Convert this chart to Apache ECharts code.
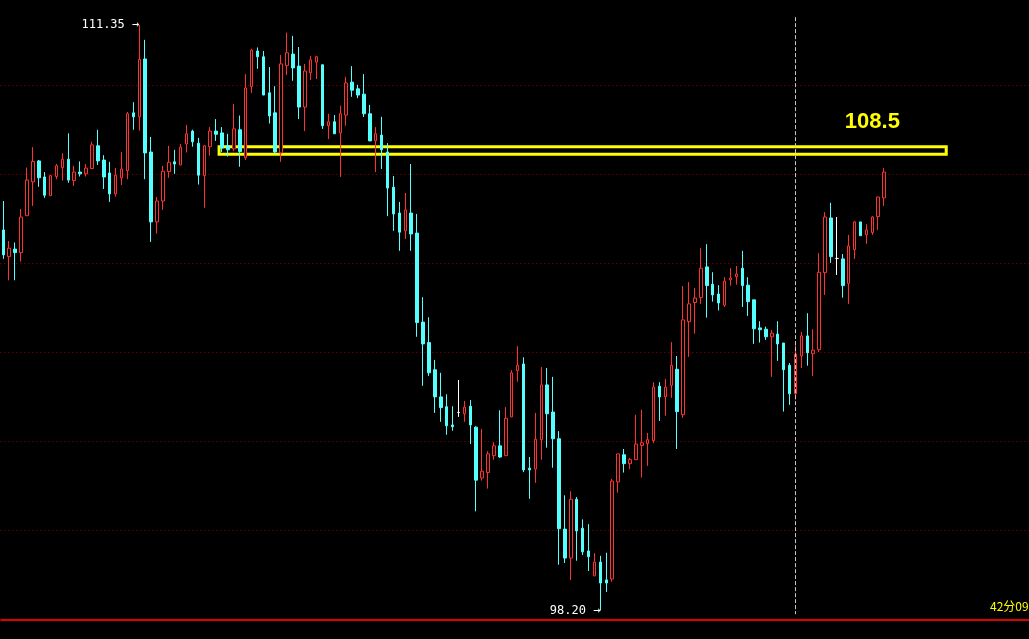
<!DOCTYPE html>
<html>
<head>
<meta charset="utf-8">
<script src="https://cdn.jsdelivr.net/npm/echarts@6/dist/echarts.min.js"></script>
<style>
html,body{margin:0;padding:0;background:#000;}
#chart{width:1029px;height:639px;}
</style>
</head>
<body>
<div id="chart"></div>
<script>
// ---- data ----
const slotCount = 174; // candle slots across the full panel width
const categories = Array.from({length: slotCount}, (_, i) => String(i + 1));

const opens = [
106.75,106.15,106.32,106.24,107.07,107.83,108.30,107.94,107.52,107.95,
108.15,108.34,107.86,108.05,108.01,108.13,108.64,108.32,108.03,107.56,
107.92,108.08,109.38,109.29,110.59,108.50,106.93,107.40,108.06,108.28,
108.21,108.68,108.97,108.70,107.97,108.62,108.97,108.93,108.64,108.57,
109.00,108.37,109.97,110.77,110.64,109.83,109.38,108.48,110.44,110.70,
110.43,109.51,110.28,110.52,110.46,109.09,109.18,108.93,109.33,110.07,
109.92,109.80,109.36,108.75,108.88,108.50,107.71,107.13,106.73,107.13,
106.68,104.68,104.22,103.61,103.00,102.78,102.37,102.65,102.62,102.79,
102.32,101.18,101.30,101.68,101.90,101.68,102.55,103.59,103.74,101.40,
101.38,102.04,103.27,102.66,102.06,100.03,99.38,100.70,100.05,99.54,
98.98,99.29,98.89,98.91,101.09,101.70,101.50,101.59,101.91,101.95,
102.02,103.24,103.00,103.26,103.62,102.60,104.69,105.12,105.23,105.92,
105.53,105.31,105.06,105.63,105.70,105.89,105.51,105.18,104.55,104.52,
104.35,104.41,104.21,103.71,103.07,103.92,104.37,103.97,104.06,105.79,
107.02,106.11,106.10,105.55,106.31,106.93,106.64,106.69,107.05,107.47
];
const closes = [
106.19,106.34,106.24,107.04,107.87,108.29,107.92,107.53,107.97,108.19,
108.34,107.87,108.05,108.01,108.14,108.66,108.30,107.94,107.56,107.98,
108.12,109.36,109.29,110.58,108.48,106.93,107.40,108.07,108.27,108.23,
108.61,108.91,108.73,107.98,108.64,108.97,108.90,108.59,108.55,109.02,
108.51,109.94,110.79,110.64,109.78,109.31,108.50,110.48,110.73,110.39,
109.51,110.32,110.57,110.64,109.09,109.18,108.91,109.36,110.05,109.89,
109.78,109.36,108.75,108.91,108.55,107.69,107.11,106.70,107.20,106.66,
104.67,104.19,103.54,103.00,102.76,102.35,102.33,102.65,102.77,102.37,
101.13,101.33,101.72,101.90,101.65,102.52,103.54,103.71,101.36,101.36,
102.05,103.27,102.62,102.06,100.04,99.38,100.70,99.99,99.52,99.41,
99.29,98.82,98.82,101.11,101.72,101.50,101.59,101.94,101.97,102.04,
103.22,103.00,103.22,103.71,102.67,104.73,105.09,105.22,105.89,105.50,
105.29,105.11,105.60,105.67,105.76,105.50,105.14,104.53,104.51,104.35,
104.43,104.19,103.61,103.07,103.96,104.37,103.99,104.05,105.80,107.04,
106.15,106.11,105.50,106.39,106.93,106.62,106.75,107.04,107.49,108.05
];
const lows = [
106.10,105.62,105.62,106.04,107.07,107.29,107.72,107.47,107.52,107.89,
107.86,107.81,107.74,107.95,107.95,108.13,108.21,107.67,107.38,107.50,
107.76,107.89,109.00,108.98,107.89,106.48,106.67,107.20,107.92,108.01,
108.21,108.49,108.62,107.77,107.25,108.42,108.75,108.50,108.40,108.52,
108.17,108.32,109.83,110.37,109.78,109.14,108.47,108.28,110.23,110.10,
109.24,108.97,110.12,110.14,109.02,108.79,108.91,107.94,109.09,109.74,
109.71,109.29,108.75,108.05,108.12,107.06,106.73,106.28,106.55,106.28,
104.35,103.25,103.47,102.64,102.44,102.15,102.24,102.55,102.44,101.94,
100.43,101.12,100.94,101.59,101.63,101.68,102.55,103.34,101.31,100.71,
101.07,101.59,101.86,101.41,99.23,99.27,98.89,99.32,99.45,99.09,
98.98,98.20,98.62,98.85,100.85,101.30,101.38,101.59,101.19,101.45,
101.96,102.46,102.58,102.98,101.83,102.53,103.90,104.42,105.09,104.78,
105.14,104.94,105.02,105.50,105.52,105.02,104.82,104.19,104.22,104.28,
103.45,103.81,102.67,102.82,102.94,103.65,103.70,103.47,104.01,105.29,
106.01,105.74,105.23,105.09,106.10,106.62,106.44,106.64,106.75,107.29
];
const highs = [
107.40,106.50,106.47,107.22,108.15,108.61,108.32,108.05,107.99,108.23,
108.47,108.92,108.19,108.29,108.23,108.73,109.00,108.43,108.28,108.14,
108.50,109.40,109.62,111.35,111.02,108.84,107.49,108.19,108.64,108.55,
108.68,109.11,109.00,108.82,108.66,109.06,109.24,109.06,108.91,109.58,
109.32,110.25,110.82,110.85,110.77,110.41,109.98,110.68,111.18,111.11,
110.86,110.48,110.66,110.66,110.46,109.36,109.33,109.54,110.19,110.43,
110.01,110.25,109.56,109.06,109.29,108.70,107.96,107.38,107.58,108.23,
107.11,105.24,104.79,103.83,103.54,103.06,102.79,103.38,102.91,102.93,
102.34,102.28,101.78,101.98,102.70,102.77,103.60,104.14,103.89,101.65,
102.64,103.67,103.65,103.45,102.23,100.79,100.88,100.75,100.25,100.14,
99.49,99.43,99.50,101.16,101.72,101.83,101.63,102.60,102.71,102.19,
103.33,103.33,103.40,104.23,103.92,105.49,105.58,105.45,106.34,106.43,
105.80,105.51,105.69,105.89,105.94,106.28,105.69,105.18,104.70,104.58,
104.50,104.70,104.21,103.76,104.25,104.46,104.88,104.52,106.23,107.15,
107.36,107.04,106.21,106.64,106.95,106.93,106.88,107.06,107.49,108.14
];

// price axis
const yMin = 98, yMax = 111.915, yStep = 2;

// annotations
const highMark = {index: 23, value: 111.35, text: '111.35 →'};
const lowMark = {index: 101, value: 98.20, text: '98.20 →'};
const levelLabel = {index: 147, value: 109.18, text: '108.5'};
const levelBox = [36, 159, 108.62, 108.45]; // from slot, to slot, top price, bottom price
const cursorLine = {index: 134, top: 111.53, bottom: 98.12};
const timeText = '42分09';

// ---- chart ----
const candles = opens.map((o, i) => [o, closes[i], lows[i], highs[i]]);

const chart = echarts.init(document.getElementById('chart'), null, {renderer: 'canvas'});
const monoFont = 'DejaVu Sans Mono';

chart.setOption({
  backgroundColor: '#000000',
  animation: false,
  grid: {left: 0.34, right: 0, top: 0, bottom: 19.5, containLabel: false, show: false},
  xAxis: {
    type: 'category',
    data: categories,
    boundaryGap: true,
    axisLine: {show: false},
    axisTick: {show: false},
    axisLabel: {show: false},
    splitLine: {show: false}
  },
  yAxis: {
    type: 'value',
    min: yMin, max: yMax, interval: yStep,
    axisLine: {show: false},
    axisTick: {show: false},
    axisLabel: {show: false},
    splitLine: {show: true, showMinLine: false, showMaxLine: false,
                lineStyle: {color: '#900000', type: [1, 3], width: 1}}
  },
  graphic: [{
    type: 'text',
    left: 990,
    top: 600,
    style: {text: timeText, fill: '#ffff00', font: '12px "Noto Sans CJK SC", "DejaVu Sans Mono"'}
  }],
  series: [
    {
      type: 'candlestick',
      data: candles,
      barWidth: 3,
      itemStyle: {
        color: '#000000',
        color0: '#54ffff',
        borderColor: '#ff3232',
        borderColor0: '#54ffff',
        borderColorDoji: '#ffffff',
        borderWidth: 1
      },
      markPoint: {
        symbol: 'rect',
        symbolSize: 0,
        silent: true,
        itemStyle: {color: 'rgba(0,0,0,0)'},
        data: [
          {coord: [highMark.index, highMark.value],
           label: {show: true, position: 'left', distance: 0, formatter: highMark.text,
                   color: '#ffffff', fontFamily: monoFont, fontSize: 12}},
          {coord: [lowMark.index, lowMark.value],
           label: {show: true, position: 'left', distance: 0, formatter: lowMark.text,
                   color: '#ffffff', fontFamily: monoFont, fontSize: 12}},
          {coord: [levelLabel.index, levelLabel.value],
           label: {show: true, position: 'inside', formatter: levelLabel.text,
                   color: '#ffff00', fontFamily: 'Liberation Sans', fontWeight: 'bold', fontSize: 22}}
        ]
      },
      markLine: {
        silent: true,
        symbol: 'none',
        label: {show: false},
        data: [
          [
            {coord: [cursorLine.index, cursorLine.top], lineStyle: {color: '#c8c8c8', type: [4, 2], width: 1}},
            {coord: [cursorLine.index, cursorLine.bottom]}
          ]
        ]
      }
    },
    {
      type: 'custom',
      silent: true,
      clip: false,
      data: [levelBox],
      encode: {x: [0, 1], y: [2, 3]},
      renderItem: function (params, api) {
        const p1 = api.coord([api.value(0), api.value(2)]);
        const p2 = api.coord([api.value(1), api.value(3)]);
        const half = api.size([1, 0])[0] / 2;
        return {
          type: 'rect',
          shape: {x: p1[0] + half, y: p1[1], width: p2[0] - p1[0], height: p2[1] - p1[1]},
          style: {fill: 'none', stroke: '#ffff00', lineWidth: 3}
        };
      }
    },
    {
      // solid base line at the bottom of the price range
      type: 'line',
      silent: true,
      symbol: 'none',
      data: [],
      markLine: {
        silent: true,
        symbol: 'none',
        label: {show: false},
        lineStyle: {color: '#e00000', type: 'solid', width: 2},
        data: [{yAxis: yMin}]
      }
    }
  ]
});
</script>
</body>
</html>
